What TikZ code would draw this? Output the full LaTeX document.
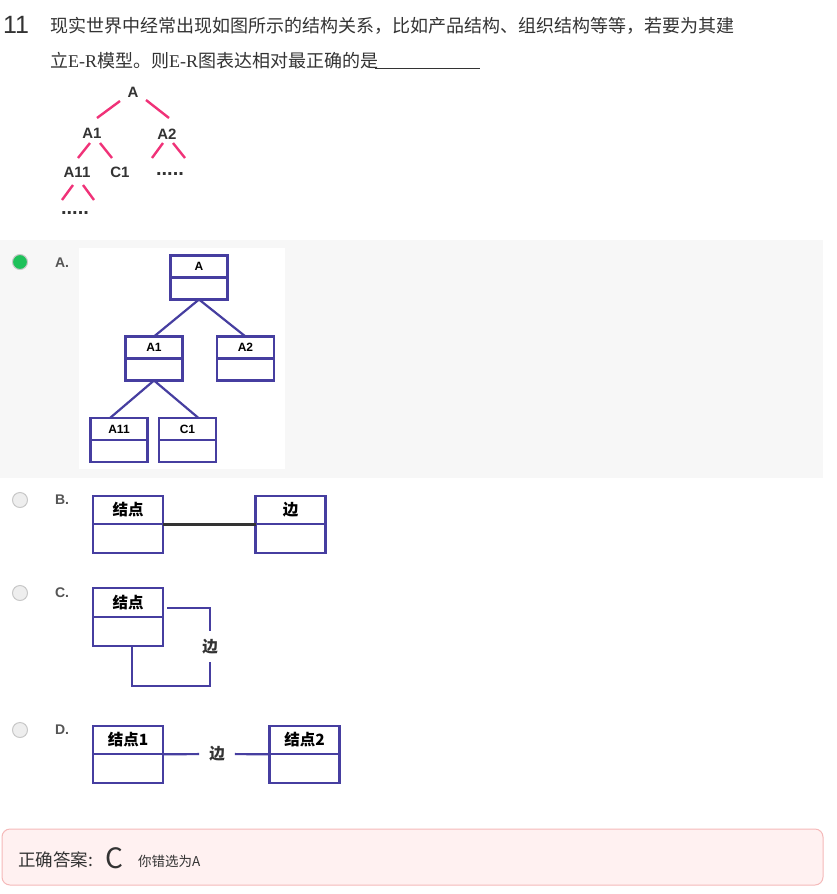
\documentclass[tikz,border=0pt]{standalone}
\usepackage{fontspec}
\setmainfont{Liberation Serif}
\setsansfont{Liberation Sans}
\newfontfamily\cjk{Noto Sans CJK SC}
\usetikzlibrary{positioning}
\definecolor{erblue}{RGB}{70,62,160}
\definecolor{treepink}{RGB}{240,50,120}
\definecolor{bandgrey}{RGB}{247,247,247}
\definecolor{txtgrey}{RGB}{51,51,51}
\definecolor{optgrey}{RGB}{85,85,85}
\definecolor{ansfill}{RGB}{255,241,241}
\definecolor{ansline}{RGB}{245,185,185}
\definecolor{radiogreen}{RGB}{30,193,90}
\tikzset{
  ent/.style={draw=erblue, line width=2.3pt, inner sep=0pt, outer sep=0pt},
  hdA/.style={ent, minimum width=57, minimum height=22, font=\sffamily\bfseries\fontsize{12}{13}\selectfont},
  bdA/.style={ent, minimum width=57, minimum height=22},
  hdB/.style={ent, minimum width=70, minimum height=28.5, font=\cjk\bfseries\fontsize{15.5}{16}\selectfont},
  bdB/.style={ent, minimum width=70, minimum height=29},
  rel/.style={draw=erblue, line width=2.2pt},
  tlab/.style={inner sep=0pt, font=\sffamily\bfseries\fontsize{15}{16}\selectfont, text=txtgrey},
  tdot/.style={tlab, anchor=base, font=\sffamily\bfseries\fontsize{20}{20}\selectfont},
  pk/.style={draw=treepink, line width=2.4pt},
  optlab/.style={inner sep=0pt, font=\sffamily\bfseries\fontsize{14}{15}\selectfont, text=optgrey},
  radio/.style={circle, draw={rgb,255:red,200;green,200;blue,200}, line width=1pt, fill={rgb,255:red,238;green,238;blue,238}, minimum size=15, inner sep=0pt},
  bianlab/.style={inner sep=0pt, font=\cjk\bfseries\fontsize{15.5}{16}\selectfont, text=txtgrey}
}
\begin{document}
\begin{tikzpicture}[x=1pt,y=-1pt]
  \useasboundingbox (0,0) rectangle (836,894);
  \fill[white] (0,0) rectangle (836,894);
  % question
  \node[anchor=west, inner sep=0pt, text=txtgrey, font=\sffamily\fontsize{25}{26}\selectfont] (num) at (3,25) {11};
  \node[anchor=west, inner sep=0pt, text=txtgrey, font=\cjk\fontsize{18}{20}\selectfont] (q1) at (50,26)
    {现实世界中经常出现如图所示的结构关系，比如产品结构、组织结构等等，若要为其建};
  \node[anchor=west, inner sep=0pt, text=txtgrey, font=\cjk\fontsize{18}{20}\selectfont] (q2) at (50,61)
    {立{\rmfamily E-R}模型。则{\rmfamily E-R}图表达相对最正确的是};
  \draw[txtgrey, line width=0.8pt] (375,68) -- (480,68);
  % tree
  \node[tlab] (t) at (133,92) {A};
  \node[tlab] (t1) at (92,133) {A1};
  \node[tlab] (t2) at (167,134) {A2};
  \node[tlab] (t11) at (77,172) {A11};
  \node[tlab] (tc1) at (120,172) {C1};
  \node[tdot] (tdots) at (170,175) {.....};
  \node[tdot] (tdots2) at (75,214) {.....};
  \draw[pk] ([shift={(-13,9)}]t.center) -- ([shift={(5,-15)}]t1.center);
  \draw[pk] ([shift={(13,8)}]t.center) -- ([shift={(2,-16)}]t2.center);
  \draw[pk] ([shift={(-2,10)}]t1.center) -- ([shift={(1,-14)}]t11.center);
  \draw[pk] ([shift={(8,10)}]t1.center) -- ([shift={(-8,-14)}]tc1.center);
  \draw[pk] ([shift={(-4,9)}]t2.center) -- ([shift={(-18,-17)}]tdots.base);
  \draw[pk] ([shift={(6,9)}]t2.center) -- ([shift={(15,-17)}]tdots.base);
  \draw[pk] ([shift={(-4,13)}]t11.center) -- ([shift={(-13,-14)}]tdots2.base);
  \draw[pk] ([shift={(6,13)}]t11.center) -- ([shift={(19,-14)}]tdots2.base);
  % option A
  \fill[bandgrey] (0,240) rectangle (823,478);
  \fill[white] (79,248) rectangle (285,469);
  \node[radio, fill=radiogreen] (ra) at (20,262) {};
  \node[optlab] (la) at (62,263) {A.};
  \node[hdA] (A) at (199,266.5) {A};
  \node[bdA, below=0pt of A] (A-b) {};
  \node[hdA] (A1) at (154,347.5) {A1};
  \node[bdA, below=0pt of A1] (A1-b) {};
  \node[hdA] (A2) at (245.5,347.5) {A2};
  \node[bdA, below=0pt of A2] (A2-b) {};
  \node[hdA] (A11) at (119,429) {A11};
  \node[bdA, below=0pt of A11] (A11-b) {};
  \node[hdA] (C1) at (187.5,429) {C1};
  \node[bdA, below=0pt of C1] (C1-b) {};
  \draw[rel] (A-b.south) -- (A1.north);
  \draw[rel] (A-b.south) -- (A2.north);
  \draw[rel] (A1-b.south) -- ([xshift=-9pt]A11.north);
  \draw[rel] (A1-b.south) -- ([xshift=11pt]C1.north);
  % option B
  \node[radio] (rb) at (20,500) {};
  \node[optlab] (lb) at (62,500) {B.};
  \node[hdB] (bjd) at (128,510) {结点};
  \node[bdB, below=0pt of bjd] (bjd-b) {};
  \node[hdB] (bb) at (290.5,510) {边};
  \node[bdB, below=0pt of bb] (bb-b) {};
  \draw[line width=2.6pt, txtgrey] (bjd.south east) -- (bb.south west);
  % option C
  \node[radio] (rc) at (20,593) {};
  \node[optlab] (lc) at (62,593) {C.};
  \node[hdB] (cjd) at (128,602.5) {结点};
  \node[bdB, below=0pt of cjd] (cjd-b) {};
  \node[bianlab, minimum height=31] (cb) at (210,646.5) {边};
  \draw[rel] ([shift={(4,5.5)}]cjd.east) -| (cb.north);
  \draw[rel] ([xshift=4pt]cjd-b.south) -- ++(0,40) -| (cb.south);
  % option D
  \node[radio] (rd) at (20,730) {};
  \node[optlab] (ld) at (62,730) {D.};
  \node[hdB] (d1) at (128,740) {结点1};
  \node[bdB, below=0pt of d1] (d1-b) {};
  \node[hdB] (d2) at (304.5,740) {结点2};
  \node[bdB, below=0pt of d2] (d2-b) {};
  \node[bianlab, inner xsep=10pt] (db) at (217,754) {边};
  \draw[rel] (d1.south east) -- (db);
  \draw[rel] (db) -- (d2.south west);
  % answer
  \draw[ansline, fill=ansfill, line width=1pt, rounded corners=8pt] (2,829) rectangle (823,885);
  \node[anchor=west, inner sep=0pt, text=txtgrey, font=\cjk\fontsize{17.5}{20}\selectfont] (ans) at (18,860) {正确答案:};
  \node[anchor=west, inner sep=0pt, text=txtgrey, font=\cjk\fontsize{28}{30}\selectfont] (ansc) at (105,858) {C};
  \node[anchor=west, inner sep=0pt, text=txtgrey, font=\cjk\fontsize{13.5}{15}\selectfont] (answ) at (138,861) {你错选为A};
\end{tikzpicture}
\end{document}
